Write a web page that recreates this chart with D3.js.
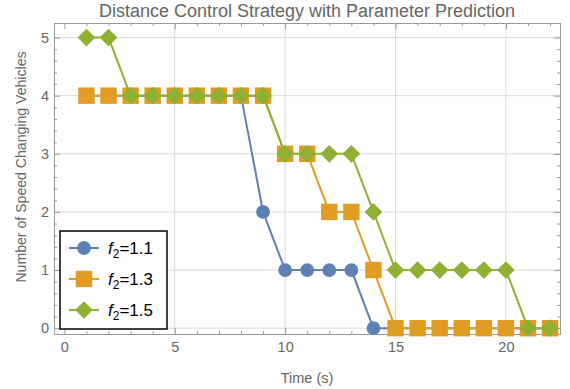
<!DOCTYPE html>
<html lang="en">
<head>
    <meta charset="UTF-8">
    <title>Distance Control Strategy with Parameter Prediction</title>
    <style>
        body{ margin: 0; background: #fff; }
        svg{ display: block; font-family: "Liberation Sans", Arial, sans-serif; }
    </style>
    <script src="https://d3js.org/d3.v7.min.js"></script>
</head>
<body>
    <div id="svg"></div>
    <script>
        const time = d3.range(1, 23)
        const f11 = [4, 4, 4, 4, 4, 4, 4, 4, 2, 1, 1, 1, 1, 0, 0, 0, 0, 0, 0, 0, 0, 0]
        const f13 = [4, 4, 4, 4, 4, 4, 4, 4, 4, 3, 3, 2, 2, 1, 0, 0, 0, 0, 0, 0, 0, 0]
        const f15 = [5, 5, 4, 4, 4, 4, 4, 4, 4, 3, 3, 3, 3, 2, 1, 1, 1, 1, 1, 1, 0, 0]
        const seriesNames = ["1.1", "1.3", "1.5"]
        const xTicks = [0, 5, 10, 15, 20]
        const yTicks = [0, 1, 2, 3, 4, 5]

        const series = [
            { name: seriesNames[0], values: f11, color: "#5E81B5", shape: "circle" },
            { name: seriesNames[1], values: f13, color: "#E19C24", shape: "square" },
            { name: seriesNames[2], values: f15, color: "#8FB032", shape: "diamond" }
        ]

        const width = 570, height = 389
        const frameL = 54, frameR = 560, frameT = 23, frameB = 334
        const frameColor = "#999", labelColor = "#666"

        const svg = d3.select('#svg').append('svg').attr("width", width).attr("height", height)

        const x = d3.scaleLinear().domain([-0.47, 22.45]).range([frameL, frameR])
        const y = d3.scaleLinear().domain([-0.1, 5.25]).range([frameB, frameT])

        // grid
        svg.append("g").selectAll("line").data(xTicks.filter(d => d > 0)).enter().append("line")
            .attr("x1", d => x(d)).attr("x2", d => x(d)).attr("y1", frameT).attr("y2", frameB)
            .attr("stroke", "#d9d9d9").attr("stroke-width", 1)
        svg.append("g").selectAll("line").data(yTicks).enter().append("line")
            .attr("y1", d => y(d)).attr("y2", d => y(d)).attr("x1", frameL).attr("x2", frameR)
            .attr("stroke", "#d9d9d9").attr("stroke-width", 1)

        // frame with inward ticks
        const xMinor = d3.range(0, 23).filter(d => d % 5 !== 0)
        const yMinor = d3.range(0, 26).map(d => d / 5).filter(d => d % 1 !== 0)

        function styleAxis(g) {
            g.selectAll(".domain").attr("stroke", frameColor)
            g.selectAll(".tick line").attr("stroke", frameColor)
            g.selectAll(".tick text").attr("fill", labelColor).attr("font-size", 14.5)
        }

        svg.append("g").attr("transform", `translate(0,${frameB})`)
            .call(d3.axisBottom(x).tickValues(xTicks).tickSize(-6).tickPadding(8).tickSizeOuter(0))
            .call(styleAxis)
        svg.append("g").attr("transform", `translate(0,${frameB})`)
            .call(d3.axisBottom(x).tickValues(xMinor).tickSize(-3).tickFormat("").tickSizeOuter(0))
            .call(styleAxis)
        svg.append("g").attr("transform", `translate(0,${frameT})`)
            .call(d3.axisTop(x).tickValues(xTicks).tickSize(-6).tickFormat("").tickSizeOuter(0))
            .call(styleAxis)
        svg.append("g").attr("transform", `translate(0,${frameT})`)
            .call(d3.axisTop(x).tickValues(xMinor).tickSize(-3).tickFormat("").tickSizeOuter(0))
            .call(styleAxis)

        svg.append("g").attr("transform", `translate(${frameL},0)`)
            .call(d3.axisLeft(y).tickValues(yTicks).tickFormat(d3.format("d")).tickSize(-6).tickPadding(5).tickSizeOuter(0))
            .call(styleAxis)
        svg.append("g").attr("transform", `translate(${frameL},0)`)
            .call(d3.axisLeft(y).tickValues(yMinor).tickSize(-3).tickFormat("").tickSizeOuter(0))
            .call(styleAxis)
        svg.append("g").attr("transform", `translate(${frameR},0)`)
            .call(d3.axisRight(y).tickValues(yTicks).tickSize(-6).tickFormat("").tickSizeOuter(0))
            .call(styleAxis)
        svg.append("g").attr("transform", `translate(${frameR},0)`)
            .call(d3.axisRight(y).tickValues(yMinor).tickSize(-3).tickFormat("").tickSizeOuter(0))
            .call(styleAxis)

        // series
        const symbols = {
            circle: d3.symbol().type(d3.symbolCircle).size(150),
            square: d3.symbol().type(d3.symbolSquare).size(270),
            diamond: d3.symbol().type(d3.symbolDiamond2).size(200)
        }
        const line = d3.line().x(d => x(d.t)).y(d => y(d.v))

        series.forEach(s => {
            const pts = time.map((t, i) => ({ t: t, v: s.values[i] }))
            const g = svg.append("g")
            g.append("path").datum(pts).attr("d", line)
                .attr("fill", "none").attr("stroke", s.color).attr("stroke-width", 2)
            g.selectAll(".pt").data(pts).enter().append("path")
                .attr("class", "pt")
                .attr("transform", d => `translate(${x(d.t)},${y(d.v)})`)
                .attr("d", symbols[s.shape])
                .attr("fill", s.color)
        })

        // titles
        svg.append("text").attr("x", 307).attr("y", 17).attr("text-anchor", "middle")
            .attr("font-size", 18).attr("fill", labelColor)
            .text("Distance Control Strategy with Parameter Prediction")
        svg.append("text").attr("x", (frameL + frameR) / 2).attr("y", 383).attr("text-anchor", "middle")
            .attr("font-size", 14.5).attr("fill", labelColor).text("Time (s)")
        svg.append("text").attr("transform", "translate(26,167) rotate(-90)")
            .attr("text-anchor", "middle").attr("font-size", 14.1).attr("fill", labelColor)
            .text("Number of Speed Changing Vehicles")

        // legend
        const lg = svg.append("g").attr("transform", "translate(60,231)")
        lg.append("rect").attr("width", 107).attr("height", 98)
            .attr("fill", "#fff").attr("stroke", "#000").attr("stroke-width", 1.5)
        series.forEach((s, i) => {
            const row = lg.append("g").attr("transform", `translate(0,${17 + i * 31})`)
            row.append("line").attr("x1", 9).attr("x2", 39).attr("stroke", s.color).attr("stroke-width", 2)
            row.append("path").attr("transform", "translate(24,0)").attr("d", symbols[s.shape]).attr("fill", s.color)
            const t = row.append("text").attr("x", 48).attr("y", 6).attr("font-size", 17).attr("fill", "#000")
            t.append("tspan").attr("font-style", "italic").text("f")
            t.append("tspan").attr("font-size", 12).attr("dy", 4).text("2")
            t.append("tspan").attr("dy", -4).text("=" + s.name)
        })
    </script>
</body>
</html>
